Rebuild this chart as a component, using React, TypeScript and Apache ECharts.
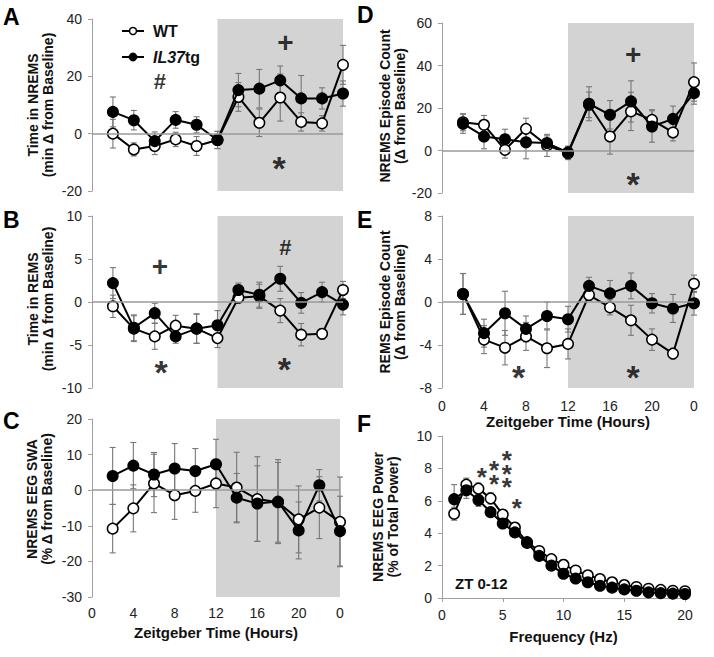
import React, { useEffect, useRef } from 'react';
import * as echarts from 'echarts';

// ---------- data ----------
const zt = [2, 4, 6, 8, 10, 12, 14, 16, 18, 20, 22, 24];
const ztTickLabels = ['0', '4', '8', '12', '16', '20', '0'];

const nremsWT = [0, -5.5, -4.3, -2, -4.3, -2.2, 12.8, 3.8, 12.6, 4.1, 3.6, 24];
const nremsWTErr = [5, 2.3, 3, 2.5, 3.3, 3, 5, 4.8, 8.2, 3.2, 2.7, 6.8];
const nremsTG = [7.6, 4.7, -2.6, 4.8, 3.1, -2.2, 15.2, 15.7, 18.6, 12.3, 12.3, 14];
const nremsTGErr = [5.2, 3.4, 3.2, 2.9, 2.8, 3, 5.8, 6.7, 5, 8, 3.7, 4.4];

const remsWT = [-0.5, -3.1, -4.0, -2.75, -3.1, -4.2, 0.5, 0.66, -1.0, -3.8, -3.7, 1.4];
const remsWTErr = [1.3, 1.5, 1.5, 1.2, 1.7, 1.1, 0.6, 1.4, 1.4, 1.3, 0.6, 1.0];
const remsTG = [2.2, -3.0, -1.3, -4.0, -3.1, -2.7, 1.4, 0.85, 2.7, -0.1, 1.15, -0.3];
const remsTGErr = [1.8, 1.5, 1.15, 0.8, 1.7, 1.7, 0.8, 1.45, 1.45, 1.2, 1.15, 1.2];

const swaWT = [-10.8, -5.1, 1.9, -1.4, -0.2, 1.9, 0.75, -2.5, -3.4, -8.2, -4.9, -8.9];
const swaWTErr = [6.8, 6.6, 8.2, 6.8, 6, 6.8, 9.9, 11.9, 11.2, 9.4, 8.7, 12.6];
const swaTG = [4.0, 6.9, 4.4, 6.1, 5.4, 7.3, -2.1, -3.75, -3.2, -11.3, 1.4, -11.5];
const swaTGErr = [8, 6.5, 6.2, 7, 6.3, 7, 6.8, 10.6, 11.8, 8, 4.4, 9.8];

const nremsEpWT = [13.3, 12.1, 0.3, 10.2, 2.4, -1.3, 21.5, 6.6, 18.4, 14.4, 8.5, 32.2];
const nremsEpWTErr = [4, 4.4, 3.9, 5, 5.2, 3, 6, 8.3, 9, 4.8, 4, 9];
const nremsEpTG = [12.6, 6.6, 5.3, 3.9, 3.5, -0.9, 22, 16.8, 23.1, 11.3, 14.9, 27];
const nremsEpTGErr = [4.5, 5.8, 4.7, 7.8, 3.4, 3, 8, 6.7, 9.7, 7.4, 6, 5.2];

const remsEpWT = [0.75, -3.5, -4.25, -3.2, -4.3, -3.9, 0.65, -0.5, -1.7, -3.5, -4.8, 1.7];
const remsEpWTErr = [1.9, 1.3, 1.6, 1.3, 1.8, 1.4, 0.5, 0.7, 1.4, 1.0, 0.5, 0.8];
const remsEpTG = [0.75, -2.9, -1.05, -2.5, -1.3, -1.6, 1.5, 0.8, 1.5, -0.12, -0.6, -0.12];
const remsEpTGErr = [1.9, 1.3, 2.05, 1.2, 1.3, 1.2, 0.8, 1.2, 1.2, 0.9, 1.3, 1.1];

const freqHz = [1, 2, 3, 4, 5, 6, 7, 8, 9, 10, 11, 12, 13, 14, 15, 16, 17, 18, 19, 20];
const powerWT = [5.2, 7.0, 6.75, 6.15, 5.15, 4.35, 3.45, 2.9, 2.4, 2.05, 1.7, 1.4, 1.17, 0.97, 0.8, 0.68, 0.57, 0.5, 0.45, 0.42];
const powerWTErr = [0.4, 0.4, 0.35, 0.35, 0.3, 0.3, 0.25, 0.25, 0.25, 0.3, 0.25, 0.2, 0.2, 0.15, 0.15, 0.12, 0.1, 0.1, 0.1, 0.1];
const powerTG = [6.1, 6.65, 6.05, 5.3, 4.6, 4.05, 3.4, 2.6, 2.0, 1.5, 1.2, 0.97, 0.76, 0.64, 0.53, 0.45, 0.35, 0.3, 0.27, 0.25];
const powerTGErr = [0.9, 0.5, 0.4, 0.3, 0.3, 0.3, 0.25, 0.2, 0.2, 0.15, 0.15, 0.1, 0.1, 0.1, 0.1, 0.08, 0.08, 0.08, 0.08, 0.08];

const annA = [{ mark: '#', x: 6.5, y: 18.1 }, { mark: '+', x: 18.5, y: 31.7 }, { mark: '*', x: 17.9, y: -9 }];
const annB = [{ mark: '+', x: 6.5, y: 4.1 }, { mark: '*', x: 6.6, y: -7.1 }, { mark: '#', x: 18.5, y: 6.3 }, { mark: '*', x: 18.4, y: -6.7 }];
const annC: { mark: string; x: number; y: number }[] = [];
const annD = [{ mark: '+', x: 18.2, y: 45 }, { mark: '*', x: 18.2, y: -11.5 }];
const annE = [{ mark: '*', x: 7.3, y: -6.1 }, { mark: '*', x: 18.2, y: -6.1 }];
const annF = [
  { mark: '*', x: 3.27, y: 7.9 },
  { mark: '*\n*', x: 4.28, y: 7.9 },
  { mark: '*\n*\n*', x: 5.33, y: 8.1 },
  { mark: '*', x: 6.15, y: 5.96 },
];

// ---------- layout ----------
const FONT = '"Liberation Sans", Arial, sans-serif';

type Panel = {
  letter: string;
  grid: { left: number; top: number; width: number; height: number };
  yMin: number; yMax: number; yInt: number;
  yName: string;
  xs: number[];
  wt: number[]; wtErr: number[]; tg: number[]; tgErr: number[];
  ann: { mark: string; x: number; y: number }[];
  kind: 'zt' | 'freq';
  showXLabels: boolean;
  letterPos: [number, number];
  nameGap: number;
  namePad: number[];
};

const panels: Panel[] = [
  { letter: 'A', grid: { left: 92, top: 19, width: 251, height: 172 }, yMin: -20, yMax: 40, yInt: 20,
    yName: 'Time in NREMS\n(min Δ from Baseline)', xs: zt, wt: nremsWT, wtErr: nremsWTErr, tg: nremsTG, tgErr: nremsTGErr,
    ann: annA, kind: 'zt', showXLabels: false, letterPos: [3, 5], nameGap: 37, namePad: [0, 0, 0, 0] },
  { letter: 'B', grid: { left: 92, top: 216, width: 251, height: 172 }, yMin: -10, yMax: 10, yInt: 5,
    yName: 'Time in REMS\n(min Δ from Baseline)', xs: zt, wt: remsWT, wtErr: remsWTErr, tg: remsTG, tgErr: remsTGErr,
    ann: annB, kind: 'zt', showXLabels: false, letterPos: [3, 208], nameGap: 37, namePad: [0, 0, 0, 6] },
  { letter: 'C', grid: { left: 92, top: 419, width: 248, height: 178 }, yMin: -30, yMax: 20, yInt: 10,
    yName: 'NREMS EEG SWA\n(% Δ from Baseline)', xs: zt, wt: swaWT, wtErr: swaWTErr, tg: swaTG, tgErr: swaTGErr,
    ann: annC, kind: 'zt', showXLabels: true, letterPos: [3, 409], nameGap: 38, namePad: [0, 0, 0, 18] },
  { letter: 'D', grid: { left: 442, top: 23, width: 252, height: 170 }, yMin: -20, yMax: 60, yInt: 20,
    yName: 'NREMS Episode Count\n(Δ from Baseline)', xs: zt, wt: nremsEpWT, wtErr: nremsEpWTErr, tg: nremsEpTG, tgErr: nremsEpTGErr,
    ann: annD, kind: 'zt', showXLabels: false, letterPos: [357, 3], nameGap: 33, namePad: [0, 0, 0, 4] },
  { letter: 'E', grid: { left: 442, top: 216, width: 252, height: 172 }, yMin: -8, yMax: 8, yInt: 4,
    yName: 'REMS Episode Count\n(Δ from Baseline)', xs: zt, wt: remsEpWT, wtErr: remsEpWTErr, tg: remsEpTG, tgErr: remsEpTGErr,
    ann: annE, kind: 'zt', showXLabels: true, letterPos: [357, 208], nameGap: 35, namePad: [0, 0, 0, 0] },
  { letter: 'F', grid: { left: 442, top: 436, width: 243, height: 162 }, yMin: 0, yMax: 10, yInt: 2,
    yName: 'NREMS EEG Power\n(% of Total Power)', xs: freqHz, wt: powerWT, wtErr: powerWTErr, tg: powerTG, tgErr: powerTGErr,
    ann: annF, kind: 'freq', showXLabels: true, letterPos: [357, 412], nameGap: 42, namePad: [0, 0, 0, 0] },
];

const errRender = (params: any, api: any) => {
  const x = api.value(0);
  const y = api.value(1);
  const e = api.value(2);
  const top = api.coord([x, y + e]);
  const bot = api.coord([x, y - e]);
  const w = 3;
  const style = { stroke: '#777777', lineWidth: 1.1 };
  return {
    type: 'group',
    children: [
      { type: 'line', shape: { x1: top[0], y1: top[1], x2: bot[0], y2: bot[1] }, style },
      { type: 'line', shape: { x1: top[0] - w, y1: top[1], x2: top[0] + w, y2: top[1] }, style },
      { type: 'line', shape: { x1: bot[0] - w, y1: bot[1], x2: bot[0] + w, y2: bot[1] }, style },
    ],
  };
};

function markStyle(mark: string, small: boolean) {
  if (mark.indexOf('*') >= 0) {
    const fs = small ? 26 : 34;
    return { fontSize: fs, lineHeight: 13.5, offset: [0, Math.round(fs * 0.26)], fontWeight: 'bold' };
  }
  if (mark === '+') return { fontSize: 28, offset: [0, 0], fontWeight: 'bold' };
  return { fontSize: 22, offset: [0, 0], fontWeight: 'bold' };
}

function buildOption() {
  const grid: any[] = [];
  const xAxis: any[] = [];
  const yAxis: any[] = [];
  const series: any[] = [];
  const graphic: any[] = [];

  panels.forEach((p, i) => {
    grid.push({ ...p.grid, containLabel: false });
    if (p.kind === 'zt') {
      xAxis.push({
        gridIndex: i, type: 'value', min: 0, max: 24, interval: 4,
        axisLine: { show: false }, axisTick: { show: false }, splitLine: { show: false },
        axisLabel: {
          show: p.showXLabels, margin: p.letter === 'C' ? 9 : 11, fontSize: 14, color: '#222', fontFamily: FONT,
          formatter: (v: number) => ztTickLabels[Math.round(v / 4)],
        },
        name: p.showXLabels ? 'Zeitgeber Time (Hours)' : '',
        nameLocation: 'middle', nameGap: p.letter === 'C' ? 28 : 26,
        nameTextStyle: { fontSize: 15, fontWeight: 'bold', color: '#111', fontFamily: FONT },
      });
    } else {
      xAxis.push({
        gridIndex: i, type: 'value', min: 0, max: 20, interval: 5,
        axisLine: { show: true, lineStyle: { color: '#a0a0a0', width: 1 } },
        axisTick: { show: true, length: 4, lineStyle: { color: '#a0a0a0' } },
        splitLine: { show: false },
        axisLabel: { margin: 10, fontSize: 14, color: '#222', fontFamily: FONT },
        name: 'Frequency (Hz)', nameLocation: 'middle', nameGap: 31,
        nameTextStyle: { fontSize: 15, fontWeight: 'bold', color: '#111', fontFamily: FONT },
      });
    }
    yAxis.push({
      gridIndex: i, type: 'value', min: p.yMin, max: p.yMax, interval: p.yInt,
      axisLine: { show: true, onZero: false, lineStyle: { color: '#a0a0a0', width: 1 } },
      axisTick: { show: true, length: 4, lineStyle: { color: '#a0a0a0' } },
      splitLine: { show: false },
      axisLabel: { margin: 10, fontSize: 14, color: '#222', fontFamily: FONT },
      name: p.yName, nameLocation: 'middle', nameRotate: 90, nameGap: p.nameGap,
      nameTextStyle: { fontSize: 14, fontWeight: 'bold', color: '#111', fontFamily: FONT, lineHeight: 15, padding: p.namePad },
    });

    if (p.kind === 'zt') {
      series.push({
        type: 'line', xAxisIndex: i, yAxisIndex: i, data: [], z: 0, silent: true,
        markArea: {
          silent: true, itemStyle: { color: '#d3d3d3' },
          data: [[{ xAxis: 12, yAxis: p.yMin }, { xAxis: 24, yAxis: p.yMax }]],
        },
        markLine: {
          silent: true, symbol: ['none', 'none'], label: { show: false },
          lineStyle: { color: '#9a9a9a', width: 1.5, type: 'solid' },
          data: [{ yAxis: 0 }],
        },
      });
    }

    series.push({
      type: 'custom', xAxisIndex: i, yAxisIndex: i, z: 2, silent: true,
      renderItem: errRender, encode: { x: 0, y: 1 },
      data: p.xs.map((x, k) => [x, p.wt[k], p.wtErr[k]]),
    });
    series.push({
      type: 'custom', xAxisIndex: i, yAxisIndex: i, z: 2, silent: true,
      renderItem: errRender, encode: { x: 0, y: 1 },
      data: p.xs.map((x, k) => [x, p.tg[k], p.tgErr[k]]),
    });
    series.push({
      type: 'line', name: 'WT', xAxisIndex: i, yAxisIndex: i, z: 3,
      data: p.xs.map((x, k) => [x, p.wt[k]]),
      symbol: 'circle', symbolSize: 10.5, showAllSymbol: true,
      lineStyle: { color: '#000', width: 2 },
      itemStyle: { color: '#fff', borderColor: '#000', borderWidth: 1.5 },
    });
    series.push({
      type: 'line', name: 'IL37tg', xAxisIndex: i, yAxisIndex: i, z: 4,
      data: p.xs.map((x, k) => [x, p.tg[k]]),
      symbol: 'circle', symbolSize: 10.5, showAllSymbol: true,
      lineStyle: { color: '#000', width: 2 },
      itemStyle: { color: '#000', borderColor: '#000', borderWidth: 1.5 },
    });
    if (p.ann.length) {
      series.push({
        type: 'scatter', xAxisIndex: i, yAxisIndex: i, z: 5, silent: true,
        symbolSize: 1, itemStyle: { color: 'rgba(0,0,0,0)' },
        data: p.ann.map((a) => ({
          name: a.mark, value: [a.x, a.y],
          label: markStyle(a.mark, p.kind === 'freq'),
        })),
        label: {
          show: true, position: 'inside', formatter: '{b}',
          color: '#000', fontFamily: FONT,
        },
      });
    }

    graphic.push({
      type: 'text', left: p.letterPos[0], top: p.letterPos[1],
      style: { text: p.letter, fontSize: 23, fontWeight: 'bold', fill: '#000', fontFamily: FONT },
    });
  });

  // legend (panel A)
  graphic.push(
    { type: 'line', shape: { x1: 122, y1: 31, x2: 144, y2: 31 }, style: { stroke: '#000', lineWidth: 2 } },
    { type: 'circle', shape: { cx: 133, cy: 31, r: 3.5 }, style: { fill: '#fff', stroke: '#000', lineWidth: 1.5 } },
    { type: 'text', x: 153, y: 31, style: { text: 'WT', fontSize: 16, fontWeight: 'bold', fill: '#111', fontFamily: FONT, verticalAlign: 'middle' } },
    { type: 'line', shape: { x1: 122, y1: 57, x2: 144, y2: 57 }, style: { stroke: '#000', lineWidth: 2 } },
    { type: 'circle', shape: { cx: 133, cy: 57, r: 4 }, style: { fill: '#000', stroke: '#000', lineWidth: 1 } },
    {
      type: 'text', x: 153, y: 57,
      style: {
        text: '{i|IL37}{n|tg}', verticalAlign: 'middle',
        rich: {
          i: { fontSize: 16, fontWeight: 'bold', fontStyle: 'italic', fill: '#111', fontFamily: FONT },
          n: { fontSize: 16, fontWeight: 'bold', fill: '#111', fontFamily: FONT },
        },
      },
    },
    { type: 'text', x: 455, y: 583, style: { text: 'ZT 0-12', fontSize: 15, fontWeight: 'bold', fill: '#111', fontFamily: FONT, verticalAlign: 'middle' } },
  );

  return {
    animation: false,
    backgroundColor: '#fff',
    grid, xAxis, yAxis, series, graphic,
  };
}

export default function App() {
  const ref = useRef<HTMLDivElement>(null);
  useEffect(() => {
    if (!ref.current) return;
    const chart = echarts.init(ref.current, undefined, { renderer: 'svg' });
    chart.setOption(buildOption() as any);
    return () => chart.dispose();
  }, []);
  return <div ref={ref} style={{ position: 'fixed', left: 0, top: 0, width: 714, height: 657 }} />;
}
